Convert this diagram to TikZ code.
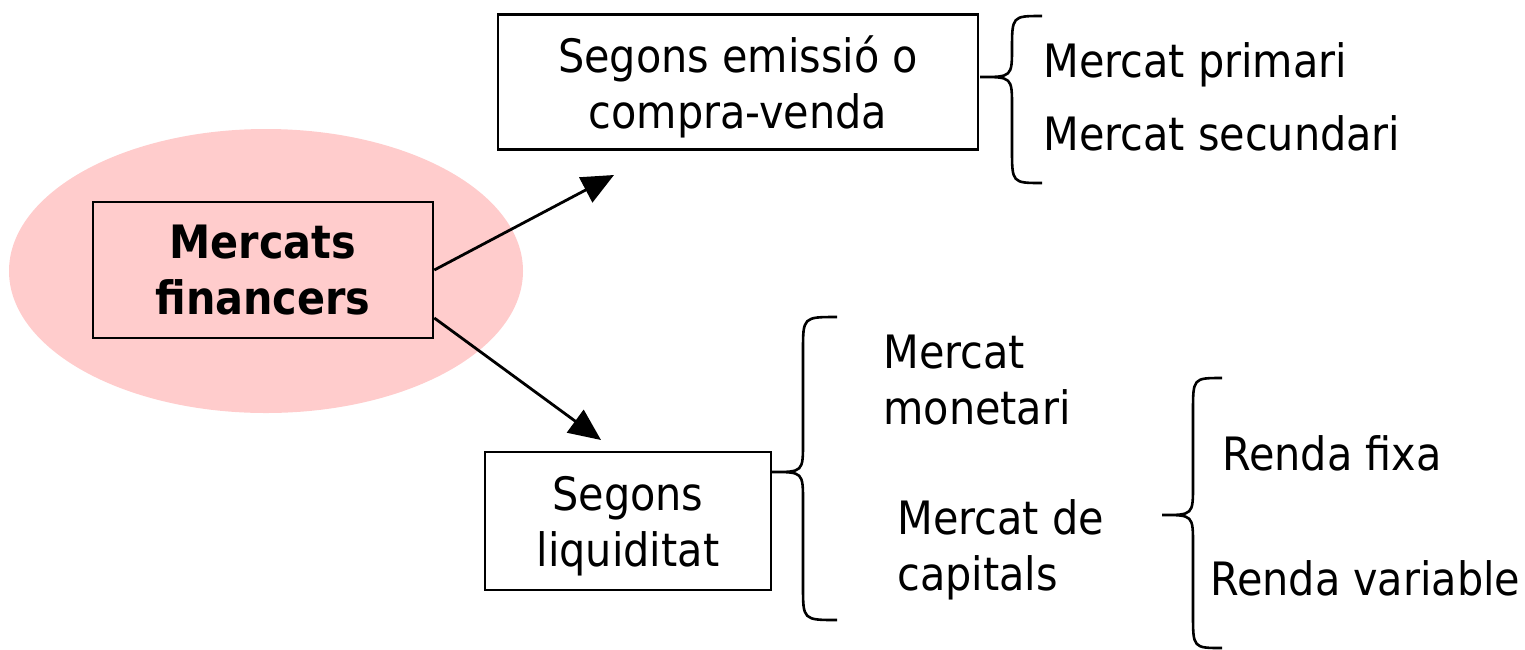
\documentclass[tikz,border=0pt]{standalone}
\usepackage{fontspec}
\setmainfont{DejaVu Sans Condensed}
\usetikzlibrary{arrows.meta,calc}
\definecolor{mfpink}{HTML}{FFCCCC}
\tikzset{
  catbox/.style={draw,line width=1.3pt,align=center,inner sep=2pt,text depth=0pt},
  leaf/.style={inner sep=0pt,align=left},
  mfont/.style={font=\fontsize{23}{28}\selectfont},
}
% brace: tip x, tip y, stem x, end x, top y, bottom y
\newcommand{\mbrace}[6]{%
  \draw[line width=1.3pt] (#4,#5) .. controls (#3,#5) .. (#3,#5+34)
    -- (#3,#2-30) .. controls (#3,#2) .. (#1,#2)
    .. controls (#3,#2) .. (#3,#2+30)
    -- (#3,#6-34) .. controls (#3,#6) .. (#4,#6);}

\begin{document}
\begin{tikzpicture}[x=0.5pt,y=-0.5pt,mfont,>={Triangle[length=16pt,width=14pt]}]
\useasboundingbox (0,0) rectangle (1525,649);

\fill[mfpink] (266,271) ellipse [x radius=128.5pt, y radius=71pt];

\node[catbox,minimum width=170pt,minimum height=68pt,font=\fontsize{23}{28}\selectfont\bfseries] (mf) at (263,270) {Mercats\\financers};
\node[catbox,minimum width=240pt,minimum height=67.5pt] (emis) at (738,82) {Segons emissió o\\compra-venda};
\node[catbox,minimum width=143pt,minimum height=69pt] (liq) at (628,521) {Segons\\liquiditat};

\coordinate (emisarr) at (614,175);
\coordinate (liqarr) at (601,440);
\draw[->,line width=1.4pt] (mf.east) -- (emisarr);
\draw[->,line width=1.4pt] ([yshift=-24pt]mf.east) -- (liqarr);

\mbrace{980}{77}{1012}{1042}{16}{183}
\node[leaf,anchor=base west] (prim) at (1043,77) {Mercat primari};
\node[leaf,anchor=base west] (sec) at (1043,150) {Mercat secundari};

\mbrace{772}{472}{803}{837}{317}{620}
\node[leaf,anchor=west] (mon) at (883,380) {Mercat\\monetari};
\node[leaf,anchor=west] (cap) at (897,550) {Mercat de\\capitals};

\mbrace{1162}{515}{1193}{1222}{378}{648}
\node[leaf,anchor=base west] (fixa) at (1222,470) {Renda fixa};
\node[leaf,anchor=base west] (var) at (1210,595) {Renda variable};
\end{tikzpicture}
\end{document}
